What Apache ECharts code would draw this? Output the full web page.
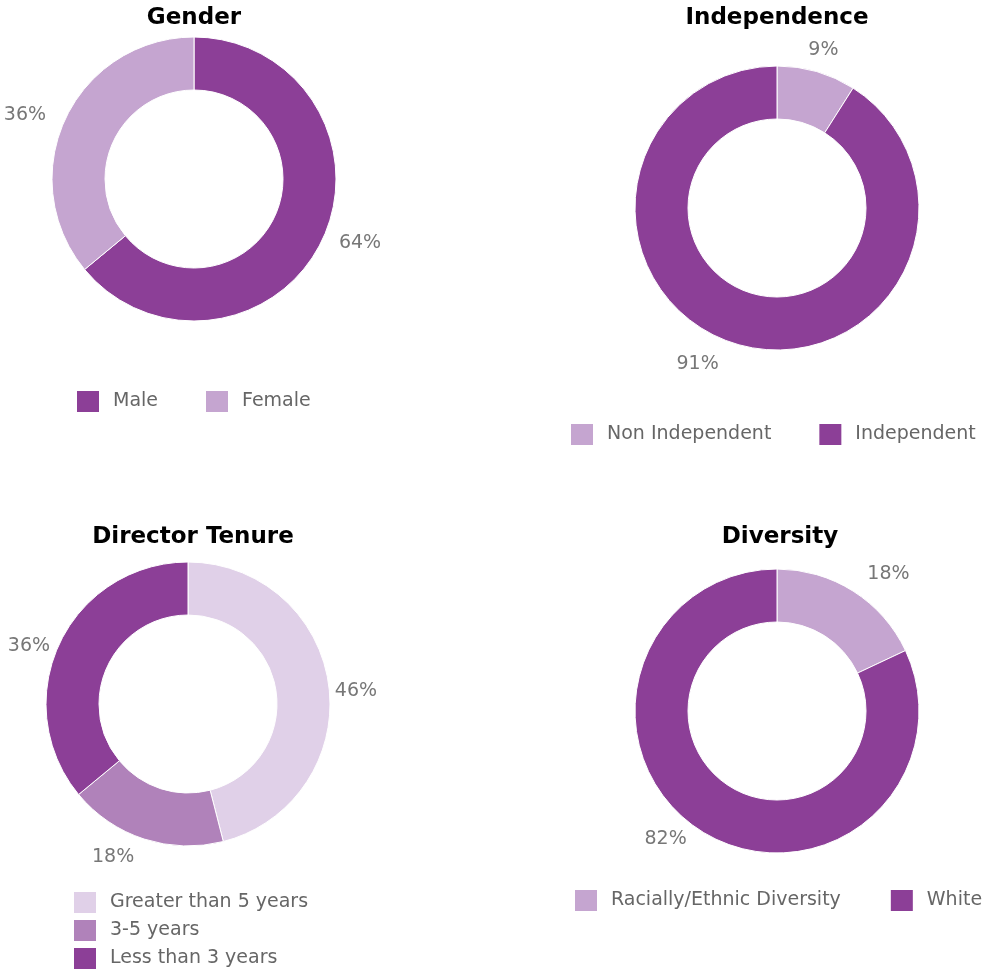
<!DOCTYPE html>
<html>
<head>
<meta charset="utf-8">
<script src="https://cdn.jsdelivr.net/npm/echarts@6/dist/echarts.min.js"></script>
<style>
  html, body { margin: 0; padding: 0; background: #fff; }
  #main { width: 989px; height: 971px; }
</style>
</head>
<body>
<div id="main"></div>
<script>
var DARK = '#8c3f97', LIGHT = '#c5a5d0', LIGHTEST = '#e0d0e8', MID = '#b082ba';

var genderNames = ['Male', 'Female'];
var genderValues = [64, 36];
var genderColors = [DARK, LIGHT];

var indepNames = ['Non Independent', 'Independent'];
var indepValues = [9, 91];
var indepColors = [LIGHT, DARK];

var tenureNames = ['Greater than 5 years', '3-5 years', 'Less than 3 years'];
var tenureValues = [46, 18, 36];
var tenureColors = [LIGHTEST, MID, DARK];

var divNames = ['Racially/Ethnic Diversity', 'White'];
var divValues = [18, 82];
var divColors = [LIGHT, DARK];

var fontFam = '"DejaVu Sans", sans-serif';

function toData(names, values, colors) {
    var res = [];
    for (var i = 0; i < names.length; i++) {
        res.push({ name: names[i], value: values[i], itemStyle: { color: colors[i] } });
    }
    return res;
}

// small nudges for the percentage labels, per slice
function nudge(shifts) {
    return function (params) {
        var s = shifts[params.dataIndex] || [0, 0];
        return { dx: s[0], dy: s[1] };
    };
}

function donut(name, center, names, values, colors, shifts) {
    return {
        name: name,
        type: 'pie',
        center: center,
        radius: [89, 142],
        startAngle: 90,
        clockwise: true,
        animation: false,
        avoidLabelOverlap: false,
        itemStyle: { borderColor: '#fff', borderWidth: 1 },
        label: {
            show: true,
            position: 'outside',
            formatter: '{c}%',
            color: '#777',
            fontSize: 19,
            fontFamily: fontFam
        },
        labelLine: { show: false, length: 6, length2: 6 },
        labelLayout: nudge(shifts || []),
        emphasis: { disabled: true },
        data: toData(names, values, colors)
    };
}

function titleAt(text, x, y) {
    return {
        text: text,
        left: x - 5,
        top: y,
        textAlign: 'center',
        textStyle: { color: '#000', fontSize: 23, fontWeight: 'bold', fontFamily: fontFam }
    };
}

function legendAt(names, left, top, gap, orient) {
    return {
        data: names,
        left: left,
        top: top,
        orient: orient || 'horizontal',
        height: 100,
        icon: 'rect',
        itemWidth: 24,
        itemHeight: 23,
        itemGap: gap,
        selectedMode: false,
        textStyle: { color: '#666', fontSize: 19, fontFamily: fontFam, padding: [0, 0, 0, 8] }
    };
}

var chart = echarts.init(document.getElementById('main'));
var option = {
    backgroundColor: '#fff',
    title: [
        titleAt('Gender', 194, 2),
        titleAt('Independence', 777, 2),
        titleAt('Director Tenure', 193, 521),
        titleAt('Diversity', 780, 521)
    ],
    legend: [
        legendAt(genderNames, 70, 384, 46),
        legendAt(indepNames, 564, 417, 46),
        legendAt(tenureNames, 67, 885, 3, 'vertical'),
        legendAt(divNames, 568, 883, 48)
    ],
    series: [
        donut('Gender', [194, 179], genderNames, genderValues, genderColors, [[0, 1], [-3, -1]]),
        donut('Independence', [777, 208], indepNames, indepValues, indepColors, [[-21, -16], [-6, 14]]),
        donut('Director Tenure', [188, 704], tenureNames, tenureValues, tenureColors, [[-11, 6], [3, 12], [7, 5]]),
        donut('Diversity', [777, 711], divNames, divValues, divColors, [[0, -12], [0, 3]])
    ]
};
chart.setOption(option);
</script>
</body>
</html>
